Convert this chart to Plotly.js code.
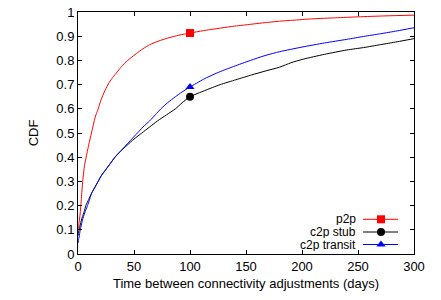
<!DOCTYPE html>
<html>
<head>
<meta charset="utf-8">
<script src="https://cdn.plot.ly/plotly-3.0.1.min.js"></script>
<style>html,body{margin:0;padding:0;background:#fff;}#chart{width:441px;height:300px;}</style>
</head>
<body>
<div id="chart"></div>
<script>
// Data
var p2pX = [0, 0.5, 1, 2, 3, 4.2, 5, 6, 7.3, 8.6, 10, 11.5, 13, 14.6, 16, 17.6, 19, 20.5, 24, 28, 31, 35, 38, 42, 47, 52, 58, 64, 72, 80, 90, 100, 112, 125, 137, 150, 165, 180, 195, 210, 230, 250, 275, 300];
var p2pY = [0.10, 0.11, 0.13, 0.17, 0.23, 0.30, 0.335, 0.37, 0.40, 0.43, 0.46, 0.49, 0.52, 0.552, 0.575, 0.594, 0.615, 0.636, 0.675, 0.71, 0.73, 0.752, 0.77, 0.79, 0.81, 0.828, 0.848, 0.865, 0.88, 0.892, 0.904, 0.913, 0.923, 0.932, 0.94, 0.947, 0.955, 0.962, 0.967, 0.972, 0.976, 0.980, 0.984, 0.987];

var stubX = [0, 0.5, 1, 2, 3, 4, 5.5, 7, 9.5, 12, 15, 18, 21, 25, 29, 33, 38, 44, 50, 57, 64, 71, 79, 87, 93, 100, 113, 127, 141, 155, 168, 180, 190, 201, 220, 240, 255, 270, 285, 300];
var stubY = [0.075, 0.09, 0.10, 0.12, 0.14, 0.155, 0.175, 0.20, 0.225, 0.25, 0.275, 0.30, 0.325, 0.35, 0.375, 0.40, 0.425, 0.45, 0.475, 0.50, 0.525, 0.55, 0.575, 0.60, 0.625, 0.65, 0.675, 0.70, 0.72, 0.74, 0.757, 0.772, 0.79, 0.805, 0.825, 0.843, 0.853, 0.865, 0.877, 0.89];

var transitX = [0, 0.5, 1, 2, 3, 4, 6, 8.5, 10, 12, 15, 18, 21, 25, 29, 33, 38, 43, 48, 53, 58, 64, 69, 74, 80, 87, 93, 100, 112, 124, 139, 154, 167, 180, 200, 220, 240, 255, 270, 285, 300];
var transitY = [0.045, 0.06, 0.07, 0.10, 0.12, 0.14, 0.17, 0.20, 0.22, 0.25, 0.275, 0.30, 0.325, 0.35, 0.375, 0.40, 0.425, 0.45, 0.475, 0.50, 0.525, 0.55, 0.575, 0.60, 0.625, 0.65, 0.67, 0.69, 0.722, 0.748, 0.775, 0.80, 0.82, 0.836, 0.855, 0.872, 0.887, 0.899, 0.91, 0.922, 0.935];

var seriesNames = ["p2p", "c2p stub", "c2p transit"];
var markerAtX = 100;

var xTickVals = [0, 50, 100, 150, 200, 250, 300];
var yTickVals = [0, 0.1, 0.2, 0.3, 0.4, 0.5, 0.6, 0.7, 0.8, 0.9, 1];

var styles = [
  {color: "#ff0000", symbol: "square"},
  {color: "#000000", symbol: "circle"},
  {color: "#0000ff", symbol: "triangle-up"}
];
var series = [[p2pX, p2pY], [stubX, stubY], [transitX, transitY]];

var traces = [];
series.forEach(function (s, i) {
  traces.push({x: s[0], y: s[1], type: "scatter", mode: "lines",
    line: {color: styles[i].color, width: 1, shape: "spline", smoothing: 0.6}, showlegend: false, hoverinfo: "none"});
  var idx = s[0].indexOf(markerAtX);
  traces.push({x: [s[0][idx]], y: [s[1][idx]], type: "scatter", mode: "markers",
    marker: {color: styles[i].color, symbol: styles[i].symbol, size: 8}, showlegend: false, hoverinfo: "none"});
});

// Custom gnuplot-style legend (text right, sample to the right of the text), in plot pixel units
var legendRows = [34.7, 22.0, 9.5];
var annotations = [];
seriesNames.forEach(function (n, i) {
  traces.push({x: [285, 320], y: [legendRows[i], legendRows[i]], xaxis: "x2", yaxis: "y2",
    type: "scatter", mode: "lines", line: {color: styles[i].color, width: 1}, showlegend: false, hoverinfo: "none"});
  traces.push({x: [303], y: [legendRows[i]], xaxis: "x2", yaxis: "y2", type: "scatter", mode: "markers",
    marker: {color: styles[i].color, symbol: styles[i].symbol, size: 8}, showlegend: false, hoverinfo: "none"});
  annotations.push({x: 279, y: legendRows[i], xref: "x2", yref: "y2", text: n, showarrow: false,
    xanchor: "right", yanchor: "middle", height: 12, borderpad: 0, font: {size: 12, color: "#000"}});
});

var axisCommon = {showgrid: false, zeroline: false, showline: true, linecolor: "#000", linewidth: 1,
  ticks: "inside", ticklen: 4, tickcolor: "#000", mirror: "allticks",
  tickfont: {size: 13, color: "#000"}};

var layout = {
  width: 441, height: 300,
  margin: {l: 78, r: 27, t: 12, b: 46},
  paper_bgcolor: "#fff", plot_bgcolor: "#fff",
  font: {family: "Liberation Sans, Arial, sans-serif", color: "#000", size: 13},
  xaxis: Object.assign({}, axisCommon, {range: [0, 300], tickvals: xTickVals,
    title: {text: "Time between connectivity adjustments (days)", font: {size: 13}, standoff: 6}}),
  yaxis: Object.assign({}, axisCommon, {range: [0, 1], tickvals: yTickVals,
    title: {text: "CDF", font: {size: 13}, standoff: 14}}),
  xaxis2: {overlaying: "x", range: [0, 336], visible: false, fixedrange: true},
  yaxis2: {overlaying: "y", range: [0, 242], visible: false, fixedrange: true},
  annotations: annotations,
  showlegend: false
};

Plotly.newPlot("chart", traces, layout, {staticPlot: true, displayModeBar: false});
</script>
</body>
</html>
